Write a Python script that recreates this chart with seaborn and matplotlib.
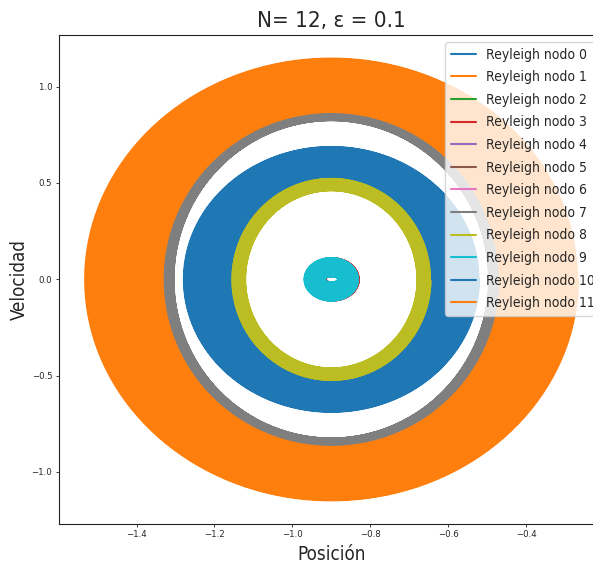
import numpy as np
import matplotlib
matplotlib.use("Agg")
import matplotlib.pyplot as plt
import seaborn as sns

# Órbitas en el espacio de fases de 12 osciladores de Rayleigh acoplados.
# Cada nodo recorre una banda elíptica entre un radio interior y uno exterior.
nodos = list(range(12))
centro_x = [-0.900, -0.900, -0.900, -0.898, -0.900, -0.900,
            -0.900, -0.900, -0.900, -0.900, -0.900, -0.900]
radio_x_int = [0.445, 0.445, 0.265, 0.017, 0.445, 0.265,
               0.445, 0.405, 0.221, 0.017, 0.259, 0.432]
radio_x_ext = [0.628, 0.628, 0.372, 0.069, 0.628, 0.372,
               0.628, 0.432, 0.259, 0.069, 0.379, 0.633]
radio_y_int = [0.885, 0.885, 0.545, 0.015, 0.885, 0.545,
               0.885, 0.826, 0.462, 0.015, 0.533, 0.868]
radio_y_ext = [1.140, 1.140, 0.685, 0.111, 1.140, 0.685,
               1.140, 0.868, 0.533, 0.111, 0.688, 1.148]
vueltas = 90
puntos_por_vuelta = 300

sns.set_style("ticks")
plt.rcParams["font.family"] = ["DejaVu Sans"]
plt.rcParams["font.stretch"] = "condensed"
plt.rcParams["axes.edgecolor"] = "#222222"

colores = sns.color_palette("tab10", 12)

fig = plt.figure(figsize=(5.93, 5.66), dpi=100)
ax = fig.add_axes([58.6 / 593, 1 - 524 / 566, (604 - 58.6) / 593, (524 - 35) / 566])

n = vueltas * puntos_por_vuelta
fase = np.linspace(0, 2 * np.pi * vueltas, n)
avance = np.linspace(1.0, 0.0, n)

for i in nodos:
    ax_x = radio_x_int[i] + avance * (radio_x_ext[i] - radio_x_int[i])
    ax_y = radio_y_int[i] + avance * (radio_y_ext[i] - radio_y_int[i])
    pos = centro_x[i] + ax_x * np.cos(fase)
    vel = -ax_y * np.sin(fase)
    sns.lineplot(x=pos, y=vel, sort=False, estimator=None, errorbar=None,
                 color=colores[i], linewidth=1.5,
                 label=f"Reyleigh nodo {i}", ax=ax)

ax.set_xlim(-1.6, -0.2)
ax.set_ylim(-1.27, 1.268)
ax.set_xticks([-1.4, -1.2, -1.0, -0.8, -0.6, -0.4])
ax.set_yticks([-1.0, -0.5, 0.0, 0.5, 1.0])
ax.tick_params(labelsize=6.8, length=2.5, width=0.6, pad=2, color="#222222")

ax.set_title("N= 12, ε = 0.1", fontsize=16)
ax.set_xlabel("Posición", fontsize=13.5)
ax.set_ylabel("Velocidad", fontsize=13.5, labelpad=2)
ax.legend(loc="upper right", fontsize=10, borderaxespad=0,
          bbox_to_anchor=(600 / 593, 1 - 42 / 566), bbox_transform=fig.transFigure,
          labelspacing=0.62, handlelength=1.8, handletextpad=0.7)

fig.savefig("out.png", dpi=100)
